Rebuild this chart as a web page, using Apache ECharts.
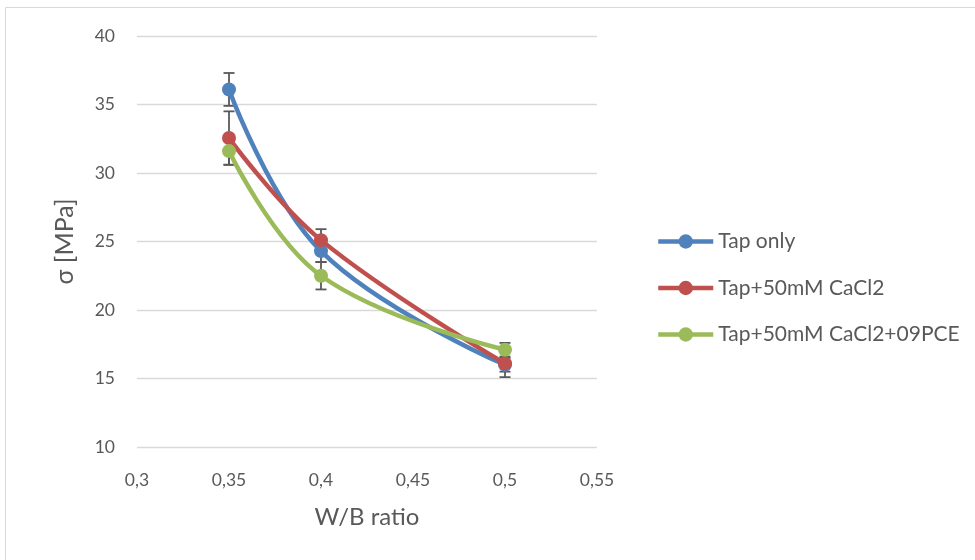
<!DOCTYPE html>
<html><head><meta charset="utf-8">
<script src="https://cdn.jsdelivr.net/npm/echarts@6/dist/echarts.min.js"></script>
<style>html,body{margin:0;padding:0;background:#fff}#c{width:975px;height:560px}</style>
</head><body><div id="c"></div>
<script>
const xValues = [0.35, 0.4, 0.5];
const tapOnly = [36.1, 24.3, 16.0];
const tapOnlyErr = [1.2, 0.8, 0.5];
const tapCaCl2 = [32.55, 25.1, 16.1];
const tapCaCl2Err = [1.95, 0.8, 1.0];
const tapCaCl2Pce = [31.6, 22.5, 17.1];
const tapCaCl2PceErr = [1.0, 1.0, 0.5];
const seriesNames = ['Tap only', 'Tap+50mM CaCl2', 'Tap+50mM CaCl2+09PCE'];
const colors = ['#4F81BD', '#C0504D', '#9BBB59'];
const FONT = 'Lato, "Open Sans", sans-serif';

const chart = echarts.init(document.getElementById('c'), null, {renderer: 'canvas'});
const vals = [tapOnly, tapCaCl2, tapCaCl2Pce];
const errs = [tapOnlyErr, tapCaCl2Err, tapCaCl2PceErr];

const series = [];
vals.forEach((v, i) => {
  series.push({
    type: 'custom', silent: true, z: 1,
    data: xValues.map((x, j) => [x, v[j] - errs[i][j], v[j] + errs[i][j]]),
    renderItem: function (params, api) {
      const lo = api.coord([api.value(0), api.value(1)]);
      const hi = api.coord([api.value(0), api.value(2)]);
      const w = 5.5;
      const st = {stroke: '#595959', lineWidth: 1.8};
      return {type: 'group', children: [
        {type: 'line', shape: {x1: lo[0], y1: lo[1], x2: hi[0], y2: hi[1]}, style: st},
        {type: 'line', shape: {x1: lo[0]-w, y1: lo[1], x2: lo[0]+w, y2: lo[1]}, style: st},
        {type: 'line', shape: {x1: hi[0]-w, y1: hi[1], x2: hi[0]+w, y2: hi[1]}, style: st}
      ]};
    }
  });
});
vals.forEach((v, i) => {
  series.push({
    name: seriesNames[i], type: 'line', smooth: 0.4, z: 3 + i,
    data: xValues.map((x, j) => [x, v[j]]),
    symbol: 'circle', symbolSize: 14,
    lineStyle: {width: 4.5, color: colors[i]},
    itemStyle: {color: colors[i]}
  });
});

chart.setOption({
  animation: false,
  color: colors,
  graphic: [{type: 'rect', shape: {x: 5.5, y: 7.5, width: 1000, height: 600},
    style: {fill: 'none', stroke: '#d9d9d9', lineWidth: 1}, silent: true}],
  grid: {left: 137, right: 378, top: 36, bottom: 113},
  legend: {
    orient: 'vertical', left: 656, top: 231, itemGap: 25.5, padding: 0,
    itemWidth: 55, itemHeight: 18,
    data: seriesNames,
    lineStyle: {width: 4.5},
    textStyle: {fontFamily: FONT, fontSize: 21, color: '#595959'}
  },
  xAxis: {
    type: 'value', min: 0.3, max: 0.55, interval: 0.05,
    axisLine: {show: false}, axisTick: {show: false}, splitLine: {show: false},
    axisLabel: {margin: 24, fontFamily: FONT, fontSize: 17.5, color: '#595959',
      formatter: v => String(Math.round(v*100)/100).replace('.', ',')},
    name: 'W/B ratio', nameLocation: 'middle', nameGap: 58,
    nameTextStyle: {fontFamily: FONT, fontSize: 24, color: '#595959'}
  },
  yAxis: {
    type: 'value', min: 10, max: 40, interval: 5,
    axisLine: {show: false}, axisTick: {show: false},
    splitLine: {lineStyle: {color: '#d9d9d9', width: 1.3}},
    axisLabel: {margin: 22, fontFamily: FONT, fontSize: 17.5, color: '#595959'},
    name: 'σ [MPa]', nameLocation: 'middle', nameGap: 60, nameRotate: 90,
    nameTextStyle: {fontFamily: FONT, fontSize: 25, color: '#595959'}
  },
  series: series
});
</script></body></html>
